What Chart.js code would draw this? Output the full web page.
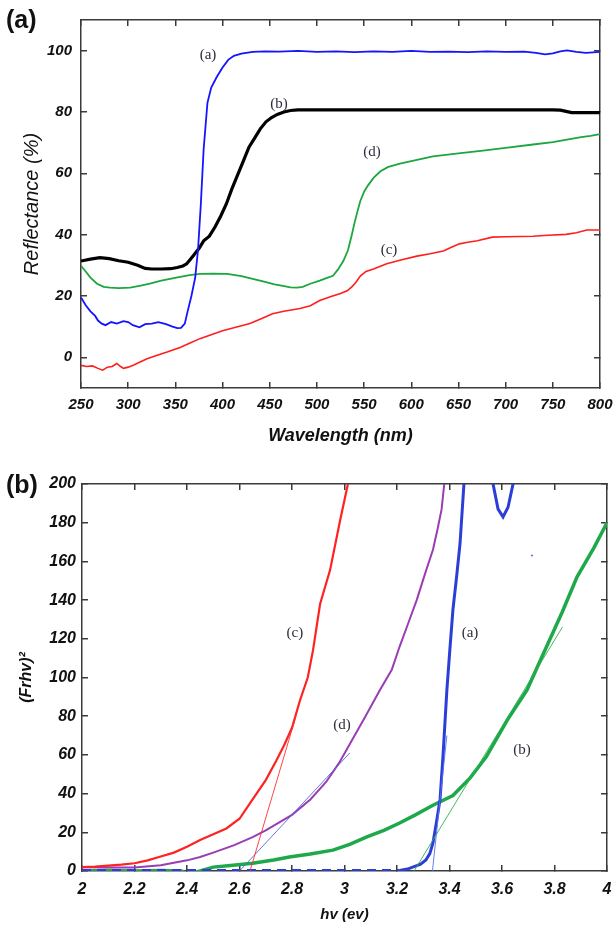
<!DOCTYPE html>
<html>
<head>
<meta charset="utf-8">
<script src="https://cdn.jsdelivr.net/npm/chart.js@4.4.0/dist/chart.umd.min.js"></script>
<style>
  body { margin: 0; background: #fff; width: 615px; height: 928px; position: relative; overflow: hidden; font-family: "Liberation Sans", Arial, sans-serif; }
  canvas { position: absolute; left: 0; }
  .tag { position: absolute; left: 6px; font-weight: bold; font-size: 25px; line-height: 1; color: #111; }
</style>
</head>
<body>
<canvas id="chart-a" width="615" height="460" style="top:0"></canvas>
<canvas id="chart-b" width="615" height="468" style="top:460px"></canvas>
<div class="tag" style="top:7px">(a)</div>
<div class="tag" style="top:472px">(b)</div>
<script>
// ---- panel (a): reflectance vs wavelength ----
const wlTicks = [250, 300, 350, 400, 450, 500, 550, 600, 650, 700, 750, 800]
const reflTicks = [0, 20, 40, 60, 80, 100]

const wlA = [250,255,260,265,268,272,276,282,288,295,300,305,312,318,325,332,340,347,352,356,360,363,367,371,374,377,380,384,388,394,400,406,412,420,432,445,460,480,500,520,540,560,580,600,620,640,660,680,700,720,732,742,750,758,765,775,785,800]
const reflA = [19.5,17,15,13.5,12,11,10.5,11.5,11,11.8,11.5,10.5,9.8,10.8,11,11.5,10.8,10,9.5,9.6,11,15,20,26,35,50,68,83,88,91.5,94.5,97,98.3,99,99.6,99.8,99.7,99.9,99.6,99.8,99.5,99.8,99.6,99.9,99.6,99.7,99.5,99.8,99.6,99.7,99.3,98.8,99.1,99.8,100.1,99.6,99.3,99.6]

const wlB = [250,260,270,280,290,300,310,318,325,335,345,352,358,362,366,370,375,380,386,392,398,404,410,416,422,428,434,440,446,452,458,465,472,480,550,650,750,758,764,770,800]
const reflB = [31.4,32,32.5,32.2,31.5,31,30,29,28.8,28.8,28.9,29.3,29.8,30.5,32,33.5,35.5,38,39.5,42.5,46,50,55,59.5,64,68.5,71.5,74.5,76.8,78.2,79.2,80,80.5,80.7,80.7,80.7,80.7,80.6,80.2,79.8,79.8]

const wlC = [250,256,262,268,273,278,283,288,292,295,300,306,312,320,330,342,355,365,376,388,400,414,429,441,453,465,482,493,503,515,525,532,537,541,546,552,560,574,590,606,620,634,642,651,660,670,686,700,715,729,745,764,775,786,800]
const reflC = [-2.6,-3,-2.8,-3.6,-4.2,-3.2,-3,-2,-3,-3.6,-3.2,-2.5,-1.6,-0.5,0.6,1.8,3.2,4.6,6.1,7.4,8.7,9.8,11,12.6,14.2,15,15.9,16.8,18.5,19.8,20.8,21.7,23,24.3,26.5,28,28.8,30.5,31.8,33,33.8,34.7,35.8,37,37.5,38,39.2,39.3,39.4,39.5,39.8,40.1,40.6,41.5,41.5]

const wlD = [250,255,260,267,274,281,290,302,312,323,335,351,365,376,390,405,420,432,445,455,464,472,479,485,493,503,510,517,522,528,533,537,540,543,546,550,554,560,567,575,588,600,623,650,676,700,729,750,765,780,790,800]
const reflD = [29.8,28,26,24,23,22.7,22.6,22.7,23.3,24,25,26,26.8,27.2,27.3,27.2,26.5,25.6,24.6,23.8,23.3,22.8,22.7,23,24,25,25.8,26.6,28.5,31.4,35,40,44,47.6,51,54,56,58.5,60.6,62,63.2,64,65.5,66.5,67.4,68.3,69.4,70.2,71,71.8,72.2,72.8]

const tagTextA = ['(a)', '(b)', '(d)', '(c)']
const tagWlA = [384.6, 459.8, 558.4, 576.4]
const tagReflA = [98.5, 82.7, 66.8, 35]

// ---- panel (b): (F(R)hv)^2 vs photon energy ----
const hvTicks = [2, 2.2, 2.4, 2.6, 2.8, 3, 3.2, 3.4, 3.6, 3.8, 4]
const frTicks = [0, 20, 40, 60, 80, 100, 120, 140, 160, 180, 200]

const hvA = [2.0,3.21,3.24,3.26,3.29,3.31,3.325,3.337,3.35,3.364,3.375,3.39,3.4,3.413,3.427,3.44,3.455,3.48,3.52,3.555,3.566,3.585,3.604,3.623,3.642,3.66]
const frA = [0.3,0.3,1,2,3.5,5.7,9,14.5,25,37,59,93.5,112,135,152,169,200,240,260,230,200,187,183,188,200,240]

const hvB = [2.0,2.1,2.2,2.3,2.38,2.4,2.42,2.45,2.5,2.575,2.65,2.73,2.79,2.87,2.956,3.02,3.085,3.15,3.21,3.27,3.337,3.413,3.478,3.54,3.62,3.695,3.77,3.83,3.886,3.95,4.0]
const frB = [0,0.3,0,0.2,0,-1.5,-1,0,2,3,4,5.7,7.2,8.8,10.8,13.8,17.6,21,24.8,29,34,39,48,59,78,93.5,116,134,152,167,180]

const hvC = [2.0,2.05,2.1,2.15,2.2,2.25,2.3,2.35,2.4,2.45,2.5,2.55,2.6,2.65,2.7,2.74,2.77,2.8,2.83,2.86,2.88,2.907,2.945,2.983,3.013]
const frC = [2,2.3,2.8,3.3,4,5.5,7.5,9.5,12.5,16,19,22,27,37,47,57,65,74,88,100,114,138,155.5,181,200]

const hvD = [2.0,2.1,2.2,2.3,2.4,2.45,2.5,2.58,2.65,2.7,2.75,2.8,2.87,2.93,2.98,3.03,3.08,3.135,3.18,3.21,3.24,3.275,3.31,3.337,3.355,3.37,3.38]
const frD = [2,1.8,1.8,3,5.5,7.2,9.5,13.4,17.5,21,25,29,37,46,56,68,80,93.5,104,116,127,140,155,166,177,187,200]

// tangent (band gap) lines
const tanHvA = [3.335, 3.39], tanFrA = [0, 70]
const tanHvB = [3.265, 3.83], tanFrB = [0, 126]
const tanHvC = [2.64, 2.815], tanFrC = [0, 80]
const tanHvD = [2.6, 3.02], tanFrD = [0, 61]
const speckHv = [3.714], speckFr = [163]

const tagTextB = ['(c)', '(a)', '(d)', '(b)']
const tagHvB = [2.811, 3.478, 2.99, 3.676]
const tagFrB = [123, 123, 75.5, 62.5]

// ---- helpers ----
const ink = '#111'
const edge = '#3a3a3a'
const pts = (xs, ys) => xs.map((x, i) => ({x, y: ys[i]}))

function sized(px) {
  return s => {
    if (s.isHorizontal()) s.height = px; else s.width = px
    s.paddingLeft = s.paddingRight = s.paddingTop = s.paddingBottom = 0
  }
}
function useTicks(vals) {
  return s => { s.ticks = vals.map(v => ({value: v})) }
}

function axis(position, min, max, vals, size, tickFont, tickPad, title) {
  return {
    type: 'linear', position, min, max,
    afterBuildTicks: useTicks(vals),
    afterFit: sized(size),
    ticks: {
      display: !!tickFont, font: tickFont, color: ink, padding: tickPad, maxRotation: 0, autoSkip: false,
      callback: v => String(+v.toFixed(1))
    },
    grid: {drawOnChartArea: false, tickLength: -6, color: edge, lineWidth: 1.5},
    border: {color: edge, width: 1.5},
    title: title || {display: false}
  }
}

const curveTags = {
  id: 'curveTags',
  afterDatasetsDraw(chart, args, opts) {
    const {ctx, scales: {x, y}} = chart
    ctx.save()
    ctx.font = '15px "Liberation Serif", serif'
    ctx.fillStyle = '#2c2c3c'
    ctx.textAlign = 'center'
    ctx.textBaseline = 'middle'
    opts.text.forEach((t, i) => ctx.fillText(t, x.getPixelForValue(opts.xs[i]), y.getPixelForValue(opts.ys[i])))
    ctx.restore()
  }
}

function line(data, color, width, extra) {
  return Object.assign({data, borderColor: color, borderWidth: width, pointRadius: 0, fill: false, tension: 0}, extra || {})
}

Chart.defaults.font.family = '"Liberation Sans", Arial, sans-serif'
Chart.defaults.color = ink

const tickA = {size: 15, weight: 'bold', style: 'italic'}
const tickB = {size: 16, weight: 'bold', style: 'italic'}

new Chart(document.getElementById('chart-a').getContext('2d'), {
  type: 'line',
  data: {
    datasets: [
      line(pts(wlA, reflA), '#1414ff', 1.8),
      line(pts(wlB, reflB), '#000000', 3.2),
      line(pts(wlD, reflD), '#1ca63f', 1.8),
      line(pts(wlC, reflC), '#ff1e1e', 1.6)
    ]
  },
  options: {
    responsive: false, animation: false, devicePixelRatio: 1,
    layout: {padding: {left: 0, right: 15, top: 20, bottom: 0}},
    scales: {
      x: axis('bottom', 250, 800, wlTicks, 72, tickA, 14, {
        display: true, text: 'Wavelength (nm)', color: ink,
        font: {size: 18, weight: 'bold', style: 'italic'}, padding: {top: 0, bottom: 13}
      }),
      x2: axis('top', 250, 800, wlTicks, 0, null, 0),
      y: axis('left', -10, 110, reflTicks, 81, tickA, 15, {
        display: true, text: 'Reflectance (%)', color: ink,
        font: {size: 20, weight: 'normal', style: 'italic'}, padding: {top: 20, bottom: 0}
      }),
      y2: axis('right', -10, 110, reflTicks, 0, null, 0)
    },
    plugins: {
      legend: {display: false}, tooltip: {enabled: false},
      curveTags: {text: tagTextA, xs: tagWlA, ys: tagReflA}
    }
  },
  plugins: [curveTags]
})

new Chart(document.getElementById('chart-b').getContext('2d'), {
  type: 'line',
  data: {
    datasets: [
      line(pts(tanHvC, tanFrC), '#ff3030', 0.9),
      line(pts(tanHvD, tanFrD), '#5566e0', 0.9),
      line(pts(tanHvA, tanFrA), '#5570f0', 0.9),
      line(pts(tanHvB, tanFrB), '#2fb050', 0.9),
      line(pts(hvA, frA), '#2b3fd6', 3, {segment: {borderDash: c => c.p0.parsed.x < 3.2 ? [9, 6] : undefined}}),
      line(pts(hvC, frC), '#ff2222', 2.2),
      line(pts(hvD, frD), '#9a3db3', 2),
      line(pts(hvB, frB), '#1da84a', 3.5),
      line(pts(speckHv, speckFr), '#5566ff', 0, {showLine: false, pointRadius: 1, pointBackgroundColor: '#5566ff', pointBorderWidth: 0})
    ]
  },
  options: {
    responsive: false, animation: false, devicePixelRatio: 1,
    layout: {padding: {left: 0, right: 8, top: 24, bottom: 0}},
    scales: {
      x: axis('bottom', 2, 4, hvTicks, 57, tickB, 15, {
        display: true, text: 'hv (ev)', color: ink,
        font: {size: 15, weight: 'bold', style: 'italic'}, padding: {top: 0, bottom: 4}
      }),
      x2: axis('top', 2, 4, hvTicks, 0, null, 0),
      y: axis('left', 0, 200, frTicks, 82, tickB, 12, {
        display: true, text: '(Frhv)²', color: ink,
        font: {size: 16, weight: 'bold', style: 'italic'}, padding: {top: 17, bottom: 0}
      }),
      y2: axis('right', 0, 200, frTicks, 0, null, 0)
    },
    plugins: {
      legend: {display: false}, tooltip: {enabled: false},
      curveTags: {text: tagTextB, xs: tagHvB, ys: tagFrB}
    }
  },
  plugins: [curveTags]
})
</script>
</body>
</html>
